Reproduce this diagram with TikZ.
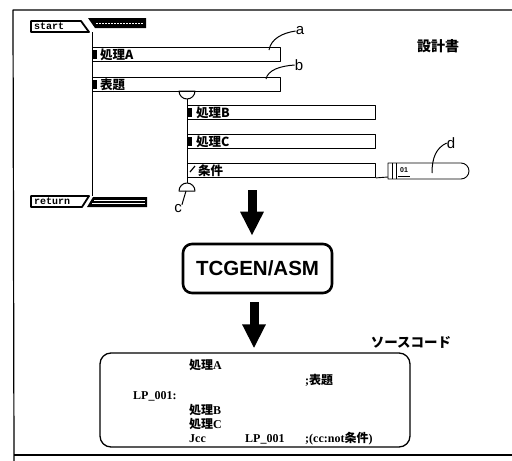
\documentclass[tikz,border=0pt]{standalone}
\usepackage{fontspec}
\setmainfont{Liberation Serif}
\setsansfont{Liberation Sans}
\setmonofont{Liberation Mono}
\newfontfamily\jp{Noto Sans CJK JP}
\usetikzlibrary{arrows.meta}
\begin{document}
\begin{tikzpicture}[x=1pt,y=-1pt,line join=round,
  frame/.style={line width=1.2pt},
  barbox/.style={draw,rectangle,line width=0.9pt,minimum height=14pt,minimum width=188pt,anchor=north west,inner sep=0pt},
  barlbl/.style={anchor=west,inner sep=0pt,font=\jp\bfseries\fontsize{12.5}{12.5}\selectfont},
  tagline/.style={line width=1.8pt},
  tagtxt/.style={inner sep=0pt,font=\ttfamily\bfseries\fontsize{10}{10}\selectfont},
  lettr/.style={inner sep=0pt,font=\sffamily\fontsize{15}{15}\selectfont},
  leader/.style={line width=1pt},
  bigarrow/.style={line width=9pt,-{Triangle[width=22pt,length=24pt]}},
  src/.style={anchor=base west,inner sep=0pt,font=\bfseries\fontsize{12}{12}\selectfont},
  loop/.style={draw,line width=1pt}
]
\useasboundingbox (0,0) rectangle (512,461);
% outer frame (open on the right)
\draw[frame] (512,10) -- (13,10) -- (14,461);
\draw[frame] (14,455) -- (512,455);

% start element
\draw[tagline] (31,21) -- (81,21) -- (89,32) -- (31,32) -- cycle;
\node[tagtxt,anchor=west] (start) at (34,26.5) {start};
\fill (88,18) -- (146,18) -- (146,28) -- (95,28) -- cycle;
\draw[white,line width=0.6pt,dash pattern=on 2pt off 1pt] (96,23) -- (143,23);
\coordinate (topv) at (92,32);

% return element
\draw[tagline] (31,196) -- (89,196) -- (82,207) -- (31,207) -- cycle;
\node[tagtxt,anchor=west] (ret) at (34,201.5) {return};
\fill (93,197) -- (147,197) -- (147,207) -- (87,207) -- cycle;
\draw[white,line width=0.5pt] (94,200) -- (145,200);
\draw[white,line width=0.5pt] (92,203.5) -- (145,203.5);
\coordinate (botv) at (92,196);
\draw[line width=1pt] (topv) -- (botv);

% process bars
\node[barbox] (pA) at (92,47) {};
\node[barbox] (pT) at (92,77) {};
\node[barbox] (pB) at (187,105) {};
\node[barbox] (pC) at (187,134) {};
\node[barbox] (pK) at (187,163) {};
\fill (93,50) rectangle (97,59);
\fill (93,80) rectangle (97,89);
\fill (188,108) rectangle (192,117);
\fill (188,137) rectangle (192,146);
\draw[line width=1.2pt] (190,172) -- (195,166);
\node[barlbl] (tA) at (100,54.5) {処理A};
\node[barlbl] (tT) at (100,84.5) {表題};
\node[barlbl] (tB) at (196,112.5) {処理B};
\node[barlbl] (tC) at (196,141.5) {処理C};
\node[barlbl] (tK) at (198,170.5) {条件};

% loop marks
\draw[loop] (179,91) arc[start angle=180,end angle=360,radius=8pt] -- cycle;
\draw[loop] (179,191) arc[start angle=180,end angle=0,radius=8pt] -- cycle;
\coordinate (lt) at (187,99);
\coordinate (lb) at (187,183);
\draw[line width=1pt] (lt) -- (lb);

% d box
\draw[line width=0.9pt] (pK.south east) -- (388,177);
\draw[line width=0.9pt] (388,163) -- (461,163) arc[start angle=90,end angle=-90,radius=8pt] -- (388,179) -- cycle;
\draw[line width=0.9pt] (392,163) -- (392,179);
\draw[line width=0.9pt] (396,163) -- (396,179);
\node[inner sep=0pt,font=\sffamily\bfseries\fontsize{7}{7}\selectfont] (n01) at (404,170.5) {01};
\draw[line width=0.6pt] (398,176) -- (410,176);

% letter labels
\node[lettr] (la) at (300,31) {a};
\draw[leader] (269,50) .. controls (271,39) and (282,33) .. (la.west);
\node[lettr] (lb2) at (299,65) {b};
\draw[leader] (266,79) .. controls (268,70) and (280,66) .. (lb2.west);
\node[lettr] (lc) at (178,209) {c};
\coordinate (cb) at (186,191);
\draw[leader] (cb) -- (lc.north east);
\node[lettr] (ld) at (451,143) {d};
\draw[leader] (432,173) .. controls (432,158) and (436,148) .. (ld.west);

% title
\node[inner sep=0pt,font=\jp\bfseries\fontsize{14}{14}\selectfont] (sk) at (438,46) {設計書};

% TCGEN box
\node[draw,line width=2.6pt,rounded corners=9pt,minimum width=149pt,minimum height=49pt,inner sep=0pt,
  font=\sffamily\bfseries\fontsize{20.5}{20.5}\selectfont] (tc) at (257.5,268.5) {TCGEN/ASM};
\coordinate (a1) at (252,190);
\draw[bigarrow] (a1) -- ([yshift=7pt]tc.north -| a1);

% source box
\node[draw,line width=1.3pt,rounded corners=11pt,minimum width=310pt,minimum height=94pt,inner sep=0pt] (sb) at (255,400) {};
\draw[bigarrow] ([yshift=-8pt]tc.south -| 254,0) -- ([yshift=4pt]sb.north -| 254,0);
\node[inner sep=0pt,font=\jp\bfseries\fontsize{13.5}{13.5}\selectfont] (sc) at (411,342) {ソースコード};

% source code lines
\node[src] (s1) at (189,369) {{\jp 処理}A};
\node[src] (s2) at (305,384) {;{\jp 表題}};
\node[src] (s3) at (133,399) {LP\_001:};
\node[src] (s4) at (189,414) {{\jp 処理}B};
\node[src] (s5) at (189,428) {{\jp 処理}C};
\node[src] (s6) at (189,442) {Jcc};
\node[src] (s7) at (245,442) {LP\_001};
\node[src] (s8) at (305,442) {;(cc:not{\jp 条件})};
\end{tikzpicture}
\end{document}
